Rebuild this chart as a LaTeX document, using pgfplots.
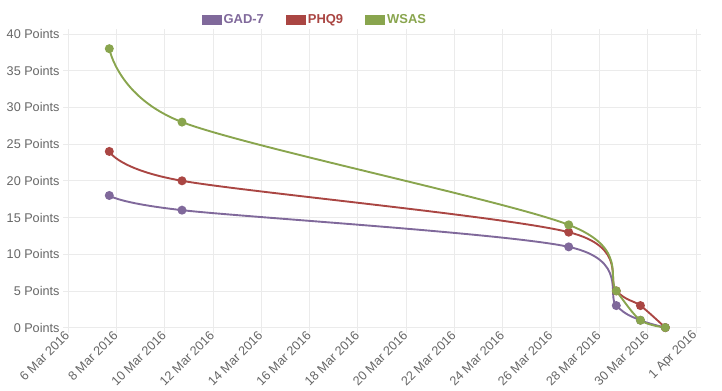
\documentclass[border=0pt]{standalone}
\usepackage{pgfplots}
\pgfplotsset{compat=1.18}
\usepackage{fontspec}
\setmainfont{Liberation Sans}
\definecolor{gadc}{HTML}{80699B}
\definecolor{phqc}{HTML}{AA4643}
\definecolor{wsasc}{HTML}{89A54E}
\definecolor{gridc}{HTML}{EBEBEB}
\definecolor{labc}{HTML}{666666}
\begin{document}
\begin{tikzpicture}
\path[use as bounding box] (-68bp,-63.4bp) rectangle (654bp,327.6bp);
\begin{axis}[
  at={(0,0)}, anchor=south west,
  scale only axis, width=628bp, height=293.6bp,
  xmin=0, xmax=26, ymin=0, ymax=40,
  clip=false,
  axis line style={draw=none},
  grid=major, grid style={gridc, line width=0.8pt},
  tick align=outside, major tick length=5bp,
  tick style={gridc, line width=0.8pt},
  xtick={0,2,...,26},
  xticklabels={6 Mar 2016,8 Mar 2016,10 Mar 2016,12 Mar 2016,14 Mar 2016,16 Mar 2016,18 Mar 2016,20 Mar 2016,22 Mar 2016,24 Mar 2016,26 Mar 2016,28 Mar 2016,30 Mar 2016,1 Apr 2016},
  ytick={0,5,...,40},
  yticklabels={0 Points,5 Points,10 Points,15 Points,20 Points,25 Points,30 Points,35 Points,40 Points},
  ticklabel style={font=\fontsize{12.7}{14}\selectfont, text=labc},
  xticklabel style={rotate=45, anchor=east, inner sep=1bp},
  legend columns=3,
  legend style={draw=none, fill=none, at={(0.393,1.048)}, anchor=center,
    font=\fontsize{13}{15}\selectfont\bfseries,
    /tikz/every even column/.append style={column sep=20bp}},
  legend image code/.code={\path[draw=none,fill,#1] (0bp,-5bp) rectangle (20bp,5bp);},
  every axis plot/.append style={line width=1.9pt, smooth, tension=0.5,
     mark=*, mark size=3.5bp},
]
\addplot[gadc, mark options={fill=gadc, draw=gadc}] coordinates {
(1.71,18) (4.72,16) (20.73,11) (22.70,3) (23.70,1) (24.73,0)};
\addlegendentry{\textcolor{gadc}{GAD-7}}
\addplot[phqc, mark options={fill=phqc, draw=phqc}] coordinates {
(1.71,24) (4.72,20) (20.73,13) (22.70,5) (23.70,3) (24.73,0)};
\addlegendentry{\textcolor{phqc}{PHQ9}}
\addplot[wsasc, mark options={fill=wsasc, draw=wsasc}] coordinates {
(1.71,38) (4.72,28) (20.73,14) (22.70,5) (23.70,1) (24.73,0)};
\addlegendentry{\textcolor{wsasc}{WSAS}}
\end{axis}
\end{tikzpicture}
\end{document}
